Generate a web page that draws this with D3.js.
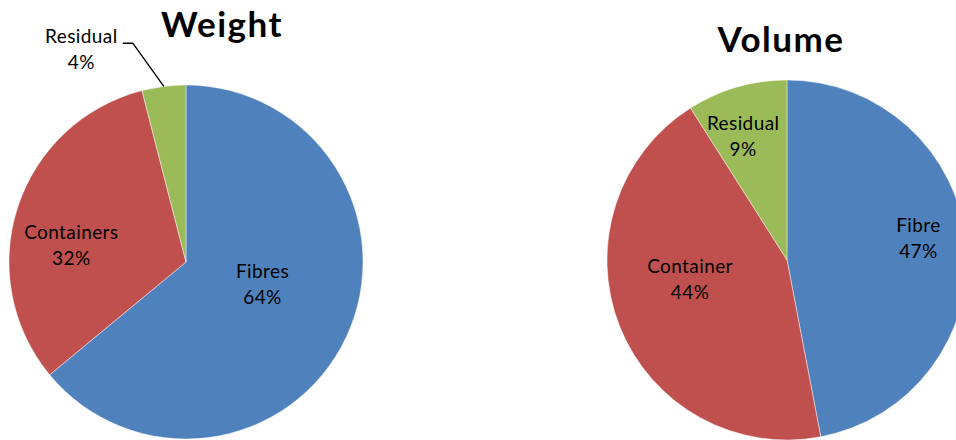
<!DOCTYPE html>
<html>
<head>
<meta charset="utf-8">
<script src="https://cdn.jsdelivr.net/npm/d3@7/dist/d3.min.js"></script>
<style>
  html, body { margin: 0; padding: 0; background: #fff; }
  svg { display: block; }
  text { font-family: Lato, "Open Sans", "Liberation Sans", sans-serif; fill: #000; }
</style>
</head>
<body>
<svg id="chart" width="956" height="440"></svg>
<script>
// Composition of collected material, by weight and by volume
const weightCategories = ["Fibres", "Containers", "Residual"];
const weightValues = [64, 32, 4];

const volumeCategories = ["Fibre", "Container", "Residual"];
const volumeValues = [47, 44, 9];

const sliceColors = ["#4F81BD", "#C0504D", "#9BBB59"];

// Layout of each pie: centre, radius, title, and where each label sits
// (label radius as a fraction of R, angular shift from the slice middle in degrees)
const pies = [
  {
    title: "Weight", titleX: 222, titleY: 37,
    cx: 186, cy: 262, r: 177,
    categories: weightCategories, values: weightValues,
    labels: [
      { frac: 0.45, shift: -9 },
      { frac: 0.655, shift: -9.6 },
      { frac: 1.34, shift: -19, leader: true }
    ]
  },
  {
    title: "Volume", titleX: 781, titleY: 52,
    cx: 787, cy: 260, r: 180,
    categories: volumeCategories, values: volumeValues,
    labels: [
      { frac: 0.74, shift: -4 },
      { frac: 0.55, shift: 10 },
      { frac: 0.73, shift: -3.3 }
    ]
  }
];

const svg = d3.select("#chart");
const pie = d3.pie().sort(null).value(d => d.value);
const rad = deg => deg * Math.PI / 180;

pies.forEach(cfg => {
  const data = cfg.categories.map((c, i) => ({ category: c, value: cfg.values[i], idx: i }));
  const arcs = pie(data);
  const arc = d3.arc().innerRadius(0).outerRadius(cfg.r);

  const g = svg.append("g").attr("transform", `translate(${cfg.cx},${cfg.cy})`);

  g.selectAll("path.slice")
    .data(arcs)
    .join("path")
    .attr("class", "slice")
    .attr("d", arc)
    .attr("fill", d => sliceColors[d.data.idx])
    .attr("stroke", "#ffffff")
    .attr("stroke-opacity", 0.55)
    .attr("stroke-width", 0.8);

  const total = d3.sum(cfg.values);

  arcs.forEach((a, i) => {
    const spec = cfg.labels[i];
    const mid = (a.startAngle + a.endAngle) / 2;
    const ang = mid + rad(spec.shift);
    const lr = spec.frac * cfg.r;
    const lx = lr * Math.sin(ang);
    const ly = -lr * Math.cos(ang);
    const pct = Math.round(a.data.value / total * 100) + "%";

    if (spec.leader) {
      const sx = cfg.r * Math.sin(mid);
      const sy = -cfg.r * Math.cos(mid);
      const ex = lx + 51.5, ey = ly - 6;
      g.append("polyline")
        .attr("points", `${sx},${sy} ${ex},${ey} ${ex - 10},${ey}`)
        .attr("fill", "none")
        .attr("stroke", "#000")
        .attr("stroke-width", 1.4);
    }

    const t = g.append("text")
      .attr("text-anchor", "middle")
      .attr("font-size", 19)
      .attr("letter-spacing", 0.4);
    t.append("tspan").attr("x", lx).attr("y", ly - 6.5).text(a.data.category);
    t.append("tspan").attr("x", lx).attr("y", ly + 19.5).text(pct);
  });

  svg.append("text")
    .attr("x", cfg.titleX)
    .attr("y", cfg.titleY)
    .attr("text-anchor", "middle")
    .attr("font-size", 35)
    .attr("font-weight", "bold")
    .attr("letter-spacing", 1.5)
    .text(cfg.title);
});
</script>
</body>
</html>
